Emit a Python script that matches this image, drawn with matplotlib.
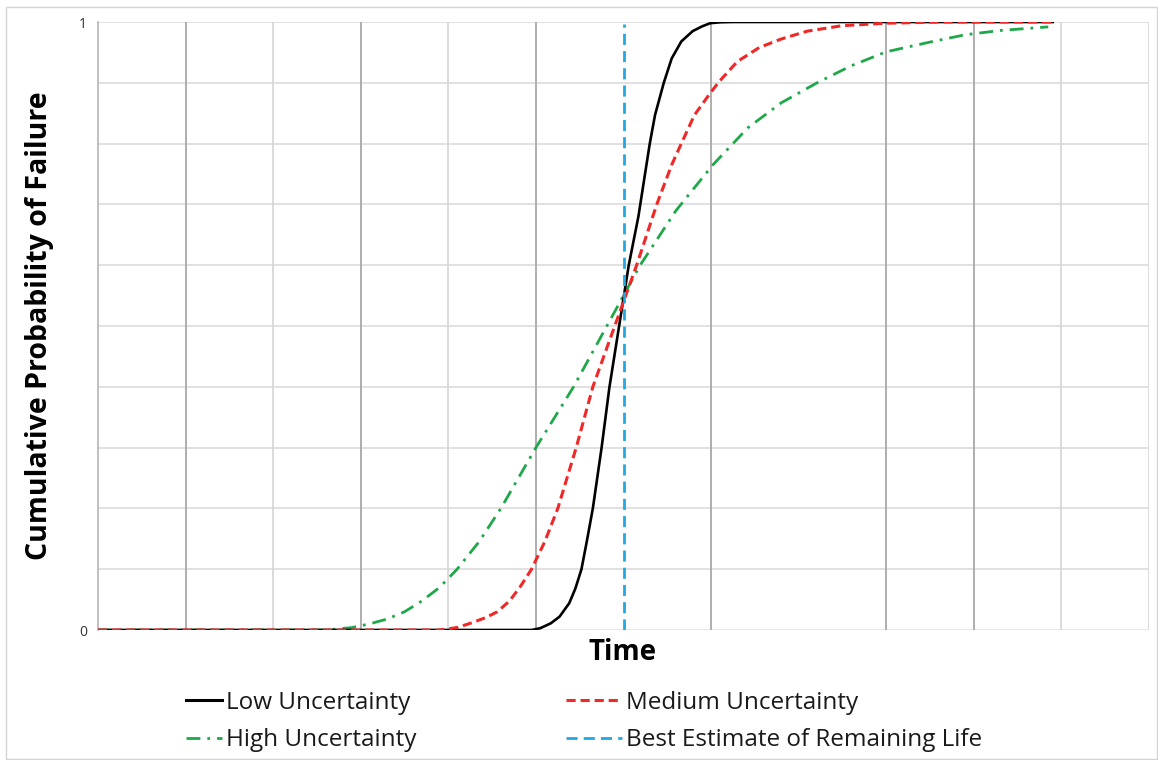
import matplotlib
matplotlib.use("Agg")
import matplotlib.pyplot as plt
from matplotlib.lines import Line2D
from matplotlib.patches import Rectangle

# time axis in grid units (0..12), probability 0..1
black_x = [0, 4.95, 5.05, 5.17, 5.27, 5.38, 5.45, 5.52, 5.58, 5.65, 5.75, 5.84, 5.95, 6.06,
           6.17, 6.25, 6.30, 6.36, 6.46, 6.55, 6.66, 6.79, 6.90, 6.99, 7.1, 7.25, 10.9]
black_y = [0, 0.0, 0.003, 0.011, 0.022, 0.044, 0.068, 0.10, 0.145, 0.20, 0.30, 0.40, 0.50, 0.60,
           0.68, 0.754, 0.80, 0.847, 0.90, 0.94, 0.968, 0.985, 0.993, 0.998, 0.9995, 1.0, 1.0]

red_x = [0, 3.9, 4.1, 4.25, 4.42, 4.56, 4.70, 4.82, 4.95, 5.10, 5.25, 5.46, 5.65, 5.90,
         6.15, 6.38, 6.55, 6.66, 6.81, 6.95, 7.08, 7.30, 7.55, 7.80, 8.10, 8.50, 9.0, 9.6, 10.9]
red_y = [0, 0, 0.004, 0.011, 0.02, 0.03, 0.048, 0.071, 0.10, 0.145, 0.20, 0.30, 0.40, 0.50,
         0.60, 0.70, 0.765, 0.80, 0.847, 0.875, 0.90, 0.935, 0.958, 0.972, 0.985, 0.994, 0.998,
         1.0, 1.0]

green_x = [0, 2.6, 2.9, 3.1, 3.3, 3.5, 3.7, 3.9, 4.1, 4.35, 4.6, 5.0, 5.43, 5.81, 6.19,
           6.60, 7.02, 7.42, 7.8, 8.21, 8.6, 9.0, 9.5, 9.9, 10.3, 10.85]
green_y = [0, 0, 0.004, 0.01, 0.018, 0.03, 0.048, 0.07, 0.10, 0.145, 0.20, 0.30, 0.40, 0.50,
           0.60, 0.69, 0.765, 0.826, 0.867, 0.90, 0.928, 0.951, 0.967, 0.979, 0.986, 0.992]

best_estimate = 6.0

dark_grid_x = [1, 3, 5, 7, 9, 10]
light_grid_x = [2, 4, 11, 12]
grid_y = [0.1, 0.2, 0.3, 0.4, 0.5, 0.6, 0.7, 0.8, 0.9, 1.0]

plt.rcParams['font.family'] = ['Open Sans', 'DejaVu Sans']

fig = plt.figure(figsize=(11.58, 7.6), dpi=100)
ax = fig.add_axes([98 / 1158, 130 / 760, 1051 / 1158, 608 / 760])

for gy in grid_y:
    ax.axhline(gy, color="#dcdcdc", lw=1.2, zorder=0)
ax.axhline(0, color="#e4e4e4", lw=1.2, zorder=0)
for gx in light_grid_x:
    ax.axvline(gx, color="#d6d6d6", lw=1.2, zorder=0)
for gx in dark_grid_x:
    ax.axvline(gx, color="#a8a8a8", lw=1.3, zorder=0)

ax.plot(black_x, black_y, color="black", lw=1.9, zorder=3)
ax.plot(red_x, red_y, color="#f02828", lw=2.2, dashes=(3, 1.6), zorder=4)
ax.plot(green_x, green_y, color="#1fa84a", lw=2.0, dashes=(5, 2.5, 1, 2.5), zorder=2)
ax.plot([best_estimate, best_estimate], [0, 0.996], color="#22a7e0", lw=2.0,
        dashes=(4, 2.2), zorder=5)

ax.set_xlim(0, 12)
ax.set_ylim(0, 1)
ax.set_xticks([])
ax.set_yticks([0, 1])
ax.tick_params(axis='y', length=0, pad=8, labelsize=10, labelcolor="#333333")
for side in ["top", "right", "bottom"]:
    ax.spines[side].set_visible(False)
ax.spines["left"].set_color("#b5b5b5")
ax.spines["left"].set_linewidth(1.2)

fig.text(623 / 1158, 1 - 653 / 760, "Time", fontsize=20, fontweight="bold",
         ha="center", va="center")
fig.text(40 / 1158, 1 - 326 / 760, "Cumulative Probability of Failure", fontsize=20.5,
         fontweight="bold", rotation=90, ha="center", va="center")

# legend split in two columns, each with its own handle length
left_handles = [
    Line2D([], [], color="black", lw=2.2),
    Line2D([], [], color="#1fa84a", lw=2.0, dashes=(5, 2.5, 1, 2.5)),
]
right_handles = [
    Line2D([], [], color="#f02828", lw=2.2, dashes=(3, 1.6)),
    Line2D([], [], color="#22a7e0", lw=2.0, dashes=(4, 2.2)),
]
left_labels = ["Low Uncertainty", "High Uncertainty"]
right_labels = ["Medium Uncertainty", "Best Estimate of Remaining Life"]

legend_style = dict(loc="upper left", frameon=False, fontsize=17.5, handletextpad=0.15,
                    labelspacing=0.55, borderpad=0, borderaxespad=0, labelcolor="#1a1a1a")
fig.legend(left_handles, left_labels, bbox_to_anchor=(186 / 1158, 1 - 691 / 760),
           handlelength=1.5, **legend_style)
fig.legend(right_handles, right_labels, bbox_to_anchor=(566 / 1158, 1 - 691 / 760),
           handlelength=2.3, **legend_style)

fig.patches.append(Rectangle((6 / 1158, 1 / 760), 1151 / 1158, 752 / 760,
                             transform=fig.transFigure, fill=False,
                             edgecolor="#d4d4d4", lw=1.0))

fig.savefig("out.png", dpi=100)
